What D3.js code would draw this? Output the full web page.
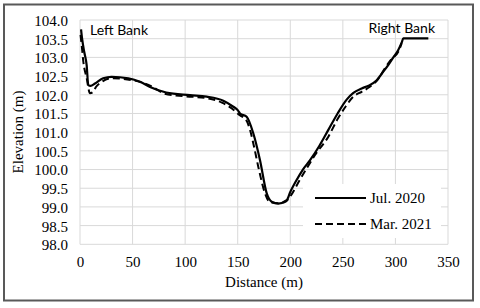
<!DOCTYPE html>
<html>
<head>
<meta charset="utf-8">
<script src="https://cdn.jsdelivr.net/npm/d3@7"></script>
<style>
  body { margin: 0; background: #fff; }
  svg text { font-family: "Liberation Serif", "Times New Roman", Times, "DejaVu Serif", serif; }
  svg text.bank { font-family: Lato, "Liberation Sans", sans-serif; }
</style>
</head>
<body>
<div id="chart"></div>
<script>
// cross-section survey data
var julDistance = [1, 2, 4, 6.3, 7.9, 10, 14.3, 22, 30, 46, 57, 66.6, 82, 104.6, 120.5, 136.3, 145.8, 150, 152.2, 158.5, 164.8, 171.2, 177.6, 182.3, 188.6, 196.6, 200, 206, 212, 218.8, 228, 236.2, 245, 253.6, 260, 267.9, 275, 282.2, 288, 293.3, 298, 302.7, 306, 307.5, 331.3];
var julElevation = [103.75, 103.5, 103.15, 102.8, 102.26, 102.24, 102.3, 102.44, 102.48, 102.44, 102.35, 102.21, 102.06, 101.99, 101.95, 101.84, 101.68, 101.59, 101.5, 101.41, 100.97, 100.25, 99.36, 99.14, 99.09, 99.18, 99.4, 99.72, 100.0, 100.25, 100.65, 101.06, 101.5, 101.87, 102.05, 102.17, 102.25, 102.39, 102.6, 102.8, 103.0, 103.2, 103.4, 103.51, 103.51];

var marDistance = [0.5, 1.6, 3.2, 6.3, 9.5, 12.7, 15, 20, 30, 45, 60, 70, 80, 100, 120, 135, 145, 152, 158, 161.7, 166, 169.6, 176, 181, 190, 196, 199.7, 209, 216, 223.5, 236.2, 245, 253, 260, 267.9, 275, 283, 290, 296, 302.7, 306];
var marElevation = [103.6, 103.33, 102.88, 102.45, 102.04, 102.08, 102.2, 102.33, 102.44, 102.41, 102.32, 102.2, 102.03, 101.96, 101.91, 101.79, 101.62, 101.45, 101.33, 101.06, 100.55, 100.07, 99.36, 99.12, 99.1, 99.15, 99.27, 99.72, 100.05, 100.39, 100.88, 101.35, 101.7, 101.95, 102.08, 102.2, 102.4, 102.71, 102.95, 103.15, 103.38];

var xTicks = [0, 50, 100, 150, 200, 250, 300, 350];
var yTicks = [98.0, 98.5, 99.0, 99.5, 100.0, 100.5, 101.0, 101.5, 102.0, 102.5, 103.0, 103.5, 104.0];
var seriesNames = ["Jul. 2020", "Mar. 2021"];

var svgWidth = 480;
var svgHeight = 308;

var margin = { top: 20, right: 32, bottom: 64, left: 80 };
var width = svgWidth - margin.left - margin.right;
var height = 224.3;

var svg = d3.select("#chart")
  .append("svg")
  .attr("width", svgWidth)
  .attr("height", svgHeight);

// outer frame
svg.append("rect")
  .attr("x", 4)
  .attr("y", 4.5)
  .attr("width", 469)
  .attr("height", 296)
  .attr("fill", "none")
  .attr("stroke", "#595959")
  .attr("stroke-width", 2);

var chartGroup = svg.append("g")
  .attr("transform", `translate(${margin.left}, ${margin.top})`);

// scales
var xScale = d3.scaleLinear().domain([0, 350]).range([0, width]);
var yScale = d3.scaleLinear().domain([98, 104]).range([height, 0]);

// gridlines
chartGroup.append("g")
  .selectAll("line")
  .data(yTicks)
  .enter()
  .append("line")
  .attr("x1", 0)
  .attr("x2", width)
  .attr("y1", d => yScale(d))
  .attr("y2", d => yScale(d))
  .attr("stroke", "#d9d9d9")
  .attr("stroke-width", 1);

chartGroup.append("g")
  .selectAll("line")
  .data(xTicks)
  .enter()
  .append("line")
  .attr("x1", d => xScale(d))
  .attr("x2", d => xScale(d))
  .attr("y1", 0)
  .attr("y2", height)
  .attr("stroke", "#d9d9d9")
  .attr("stroke-width", 1);

// axes (labels only)
var bottomAxis = d3.axisBottom(xScale).tickValues(xTicks).tickSize(0).tickPadding(12).tickFormat(d3.format("d"));
var leftAxis = d3.axisLeft(yScale).tickValues(yTicks).tickSize(0).tickPadding(12).tickFormat(d3.format(".1f"));

var xAxisG = chartGroup.append("g")
  .attr("transform", `translate(0, ${height})`)
  .call(bottomAxis);
var yAxisG = chartGroup.append("g").call(leftAxis);

[xAxisG, yAxisG].forEach(function (g) {
  g.select(".domain").remove();
  g.attr("font-family", null);
  g.selectAll("text")
    .attr("font-size", 15)
    .attr("fill", "#000");
});
yAxisG.selectAll("text").attr("dy", "0.36em");

// lines
var julData = julDistance.map((d, i) => [d, julElevation[i]]);
var marData = marDistance.map((d, i) => [d, marElevation[i]]);

var line = d3.line()
  .x(d => xScale(d[0]))
  .y(d => yScale(d[1]))
  .curve(d3.curveMonotoneX);

chartGroup.append("path")
  .datum(marData)
  .attr("d", line)
  .attr("fill", "none")
  .attr("stroke", "#000")
  .attr("stroke-width", 2)
  .attr("stroke-dasharray", "7,4");

chartGroup.append("path")
  .datum(julData)
  .attr("d", line)
  .attr("fill", "none")
  .attr("stroke", "#000")
  .attr("stroke-width", 2.2);

// bank labels
chartGroup.append("text")
  .attr("class", "bank")
  .attr("x", 10)
  .attr("y", 15)
  .attr("font-size", 14)
  .text("Left Bank");

chartGroup.append("text")
  .attr("class", "bank")
  .attr("x", 355)
  .attr("y", 13)
  .attr("text-anchor", "end")
  .attr("font-size", 14)
  .text("Right Bank");

// legend
var legend = svg.append("g");
legend.append("rect")
  .attr("x", 303)
  .attr("y", 184)
  .attr("width", 138)
  .attr("height", 54)
  .attr("fill", "#fff");

seriesNames.forEach(function (name, i) {
  var ly = 198 + i * 26;
  legend.append("line")
    .attr("x1", 315)
    .attr("x2", 366)
    .attr("y1", ly)
    .attr("y2", ly)
    .attr("stroke", "#000")
    .attr("stroke-width", i === 0 ? 2.2 : 2)
    .attr("stroke-dasharray", i === 0 ? null : "7,4");
  legend.append("text")
    .attr("x", 370)
    .attr("y", ly)
    .attr("dy", "0.35em")
    .attr("font-size", 15)
    .text(name);
});

// axis titles
svg.append("text")
  .attr("x", margin.left + width / 2)
  .attr("y", 287)
  .attr("text-anchor", "middle")
  .attr("font-size", 15)
  .text("Distance (m)");

svg.append("text")
  .attr("transform", "rotate(-90)")
  .attr("x", -132)
  .attr("y", 23)
  .attr("text-anchor", "middle")
  .attr("font-size", 15)
  .text("Elevation (m)");
</script>
</body>
</html>
